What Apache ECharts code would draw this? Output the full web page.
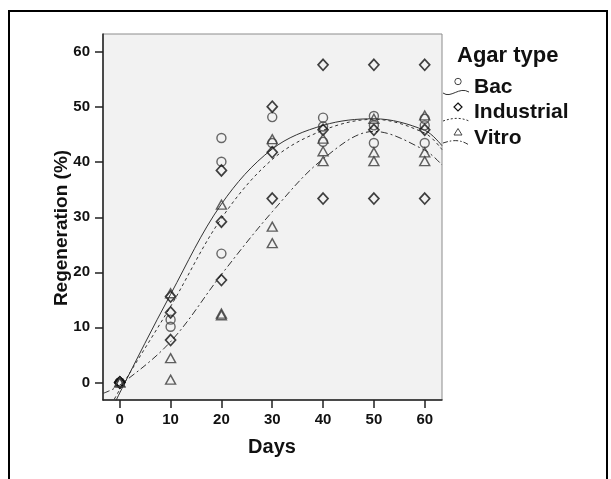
<!DOCTYPE html>
<html>
<head>
<meta charset="utf-8">
<script src="https://cdn.jsdelivr.net/npm/echarts@6/dist/echarts.min.js"></script>
<style>
  html, body { margin: 0; padding: 0; background: #fff; }
  #chart { width: 611px; height: 479px; }
</style>
</head>
<body>
<div id="chart"></div>
<script>
// tick positions
const xTicks = [0, 10, 20, 30, 40, 50, 60];
const yTicks = [0, 10, 20, 30, 40, 50, 60];

const bacDays = [0, 0, 0, 10, 10, 20, 20, 20, 30, 30, 40, 40, 40, 50, 50, 50, 60, 60, 60];
const bacValues = [0, 0, 0, 11.4, 10.1, 44.4, 40.1, 23.4, 48.2, 43.5, 48.1, 46.5, 43.7, 48.4, 46.7, 43.5, 47.9, 46.7, 43.5];

const indDays = [0, 0, 0, 10, 10, 10, 20, 20, 20, 30, 30, 30, 40, 40, 40, 50, 50, 50, 60, 60, 60];
const indValues = [0, 0, 0, 15.6, 12.7, 7.7, 38.5, 29.2, 18.6, 50.1, 41.8, 33.4, 57.7, 45.9, 33.4, 57.7, 45.9, 33.4, 57.7, 45.9, 33.4];

const vitDays = [0, 0, 10, 10, 10, 20, 20, 20, 30, 30, 30, 40, 40, 40, 50, 50, 50, 60, 60, 60];
const vitValues = [0, 0, 16.2, 4.4, 0.5, 32.3, 12.5, 12.2, 44.2, 28.3, 25.3, 44.3, 42.0, 40.2, 47.9, 41.8, 40.2, 48.5, 41.8, 40.2];

// fit lines
const fitDays = [-3.3, 0, 10, 20, 30, 40, 50, 60, 63.4];
const bacFit = [-8.4, -1.9, 16.0, 32.4, 42.4, 46.7, 47.9, 45.8, 43.0];
const indFit = [-6.9, -1.3, 13.8, 29.8, 40.5, 45.8, 47.8, 45.3, 42.3];
const vitFit = [-2.0, -0.5, 7.4, 19.6, 31.0, 40.6, 45.6, 42.2, 39.5];

const pair = (xs, ys) => xs.map((x, i) => [x, ys[i]]);
const FONT = 'Liberation Sans, Arial, sans-serif';

const chart = echarts.init(document.getElementById('chart'));

function fitSeries(name, ys, dash) {
  return {
    name: name + ' fit',
    type: 'line',
    data: pair(fitDays, ys),
    showSymbol: false,
    smooth: 0.35,
    clip: true,
    silent: true,
    z: 2,
    lineStyle: { color: '#333', width: 1, type: dash }
  };
}

function dotSeries(name, xs, ys, symbol, size, color, w) {
  return {
    name: name,
    type: 'scatter',
    data: pair(xs, ys),
    symbol: symbol,
    symbolSize: size,
    z: 3,
    itemStyle: { color: 'rgba(0,0,0,0)', borderColor: color, borderWidth: w }
  };
}

const legendY = [81.5, 107, 132];
const labelY = [87, 112, 138];

chart.setOption({
  animation: false,
  backgroundColor: '#fff',
  grid: {
    left: 103, top: 34, right: 169, bottom: 79,
    show: true, backgroundColor: '#f2f2f2', borderColor: '#8c8c8c', borderWidth: 1
  },
  xAxis: {
    type: 'value', min: -3.3, max: 63.4,
    splitLine: { show: false },
    axisLine: { onZero: false, lineStyle: { color: '#222', width: 1.5 } },
    axisTick: { customValues: xTicks, length: 8, lineStyle: { color: '#222', width: 1.5 } },
    axisLabel: { customValues: xTicks, margin: 12, color: '#111', fontFamily: FONT, fontWeight: 'bold', fontSize: 15 }
  },
  yAxis: {
    type: 'value', min: -3.2, max: 63.3,
    splitLine: { show: false },
    axisLine: { onZero: false, lineStyle: { color: '#222', width: 1.5 } },
    axisTick: { customValues: yTicks, length: 8, lineStyle: { color: '#222', width: 1.5 } },
    axisLabel: { customValues: yTicks, margin: 13, color: '#111', fontFamily: FONT, fontWeight: 'bold', fontSize: 15 }
  },
  series: [
    fitSeries('Bac', bacFit, 'solid'),
    fitSeries('Industrial', indFit, [3, 3]),
    fitSeries('Vitro', vitFit, [7, 3, 2, 3]),
    dotSeries('Bac', bacDays, bacValues, 'circle', 9, '#444', 1.4),
    dotSeries('Industrial', indDays, indValues, 'diamond', [10, 11], '#111', 1.7),
    dotSeries('Vitro', vitDays, vitValues, 'triangle', [10, 9], '#3a3a3a', 1.4)
  ],
  graphic: [
    { type: 'rect', shape: { x: 9, y: 11, width: 598, height: 500 }, style: { fill: 'none', stroke: '#000', lineWidth: 2 }, silent: true },
    { type: 'text', x: 272, y: 447, style: { text: 'Days', font: 'bold 20px ' + FONT, fill: '#111', textAlign: 'center', textVerticalAlign: 'middle' } },
    { type: 'text', x: 62, y: 228, rotation: Math.PI / 2, style: { text: 'Regeneration (%)', font: 'bold 19px ' + FONT, fill: '#111', textAlign: 'center', textVerticalAlign: 'middle' } },
    { type: 'text', x: 457, y: 56, style: { text: 'Agar type', font: 'bold 22px ' + FONT, fill: '#111', textAlign: 'left', textVerticalAlign: 'middle' } },
    { type: 'text', x: 474, y: labelY[0], style: { text: 'Bac', font: 'bold 21px ' + FONT, fill: '#111', textVerticalAlign: 'middle' } },
    { type: 'text', x: 474, y: labelY[1], style: { text: 'Industrial', font: 'bold 21px ' + FONT, fill: '#111', textVerticalAlign: 'middle' } },
    { type: 'text', x: 474, y: labelY[2], style: { text: 'Vitro', font: 'bold 21px ' + FONT, fill: '#111', textVerticalAlign: 'middle' } },
    { type: 'circle', shape: { cx: 458, cy: legendY[0], r: 3.2 }, style: { fill: 'none', stroke: '#444', lineWidth: 1 } },
    { type: 'polygon', shape: { points: [[458, legendY[1] - 4], [462, legendY[1]], [458, legendY[1] + 4], [454, legendY[1]]] }, style: { fill: 'none', stroke: '#111', lineWidth: 1.2 } },
    { type: 'polygon', shape: { points: [[458, legendY[2] - 3.5], [462, legendY[2] + 3], [454, legendY[2] + 3]] }, style: { fill: 'none', stroke: '#444', lineWidth: 1 } },
    { type: 'bezierCurve', shape: { x1: 443, y1: 93, cpx1: 451, cpy1: 99, cpx2: 459, cpy2: 86, x2: 469, y2: 92 }, style: { fill: 'none', stroke: '#333', lineWidth: 1 } },
    { type: 'bezierCurve', shape: { x1: 443, y1: 121, cpx1: 452, cpy1: 118, cpx2: 460, cpy2: 117, x2: 469, y2: 121 }, style: { fill: 'none', stroke: '#333', lineWidth: 1, lineDash: [2, 2] } },
    { type: 'bezierCurve', shape: { x1: 443, y1: 143, cpx1: 452, cpy1: 140, cpx2: 460, cpy2: 139, x2: 469, y2: 145 }, style: { fill: 'none', stroke: '#333', lineWidth: 1, lineDash: [5, 2, 1.5, 2] } }
  ]
});
</script>
</body>
</html>
